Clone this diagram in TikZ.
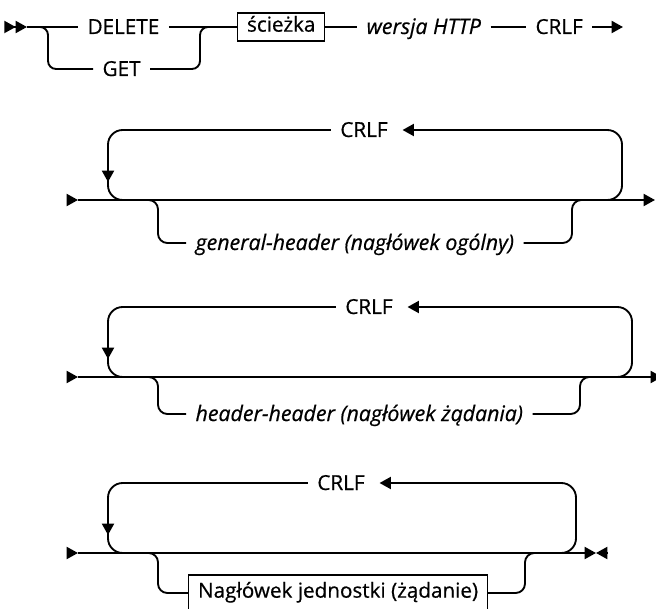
\documentclass[tikz,border=0pt]{standalone}
\usepackage{fontspec}
\setmainfont{Open Sans}[FakeBold=0.6]
\usetikzlibrary{arrows.meta,positioning}

\tikzset{
  rail/.style={line width=1.4pt, black},
  tipr/.style={-{Triangle[length=8.5pt,width=9pt]}},
  txt/.style={inner xsep=7pt, inner ysep=0pt, text height=10.5pt, text depth=0pt,
    font=\fontsize{15.5}{18}\selectfont},
  itxt/.style={txt, font=\fontsize{16}{19}\selectfont\itshape},
  boxed/.style={txt, draw, line width=1.1pt, inner xsep=7pt, inner ysep=3.5pt, text depth=3.5pt}
}

\begin{document}
\begin{tikzpicture}[x=0.75pt, y=-0.75pt]
\useasboundingbox (0,0) rectangle (656,609);

% ================= ROW 1: METHOD =================
\coordinate (st1) at (8,27);
\node[txt, anchor=west] (del) at (78,27) {DELETE};
\node[txt, anchor=west] (get) at (93,69) {GET};
\node[boxed, anchor=west] (path) at (237,27) {ścieżka};
\node[itxt, anchor=west] (ver) at (357,27) {wersja HTTP};
\node[txt, anchor=west] (crlf1) at (526,27) {CRLF};
\coordinate (end1) at (623,27);

\draw[rail, -{Triangle[length=8.5pt,width=9pt]Triangle[length=8.5pt,width=9pt]}] (st1) -- ++(19,0);
\draw[rail] (27,27) -- (del.west);
\draw[rail] (del.east) -- (path.west);
\draw[rail, rounded corners=6pt] (32,27) -| (48,69) -- (get.west);
\draw[rail, rounded corners=6pt] (get.east) -| (200,27) -- (210,27);
\draw[rail] (path.east) -- (ver.west);
\draw[rail] (ver.east) -- (crlf1.west);
\draw[rail, tipr] (crlf1.east) -- (end1);

% ================= ROW 2: GENERAL HEADER =================
\coordinate (in2) at (67,200);
\coordinate (out2) at (655,200);
\node[txt] (crlf2) at (364,130) {CRLF};
\node[itxt, anchor=west] (gen) at (186,243) {general-header (nagłówek ogólny)};

\draw[rail, tipr] (in2) -- ++(11,0);
\draw[rail, tipr] (78,200) -- (out2);
\draw[rail, tipr, rounded corners=11pt, shorten >=4pt] (590,200) -| (622,130) -- (crlf2.east);
\draw[rail, tipr, rounded corners=11pt] (crlf2.west) -| (108,182);
\draw[rail, rounded corners=11pt] (108,176) |- (135,200);
\draw[rail, rounded corners=7pt] (140,200) -| (158,243) -- (gen.west);
\draw[rail, rounded corners=7pt] (gen.east) -| (572,200) -- (585,200);

% ================= ROW 3: REQUEST HEADER =================
\coordinate (in3) at (67,377);
\coordinate (out3) at (662,377);
\node[txt] (crlf3) at (369,307) {CRLF};
\node[itxt, anchor=west] (req) at (186,414) {header-header (nagłówek żądania)};

\draw[rail, tipr] (in3) -- ++(11,0);
\draw[rail, tipr] (78,377) -- (out3);
\draw[rail, tipr, rounded corners=11pt, shorten >=4pt] (600,377) -| (632,307) -- (crlf3.east);
\draw[rail, tipr, rounded corners=11pt] (crlf3.west) -| (108,359);
\draw[rail, rounded corners=11pt] (108,353) |- (135,377);
\draw[rail, rounded corners=7pt] (140,377) -| (158,414) -- (req.west);
\draw[rail, rounded corners=7pt] (req.east) -| (580,377) -- (592,377);

% ================= ROW 4: ENTITY HEADER =================
\coordinate (in4) at (67,553);
\coordinate (stop4) at (596,553);
\node[txt] (crlf4) at (341,483) {CRLF};
\node[boxed, anchor=west, minimum height=27pt] (ent) at (188,593) {Nagłówek jednostki (żądanie)};

\draw[rail, tipr] (in4) -- ++(11,0);
\draw[rail, tipr] (78,553) -- (stop4);
\draw[rail, tipr] (608,553) -- (stop4);
\draw[rail, tipr, rounded corners=11pt, shorten >=4pt] (545,553) -| (576,483) -- (crlf4.east);
\draw[rail, tipr, rounded corners=11pt] (crlf4.west) -| (108,535);
\draw[rail, rounded corners=11pt] (108,529) |- (135,553);
\draw[rail, rounded corners=7pt] (140,553) -| (158,593) -- (ent.west);
\draw[rail, rounded corners=7pt] (ent.east) -| (525,553) -- (538,553);

\end{tikzpicture}
\end{document}
